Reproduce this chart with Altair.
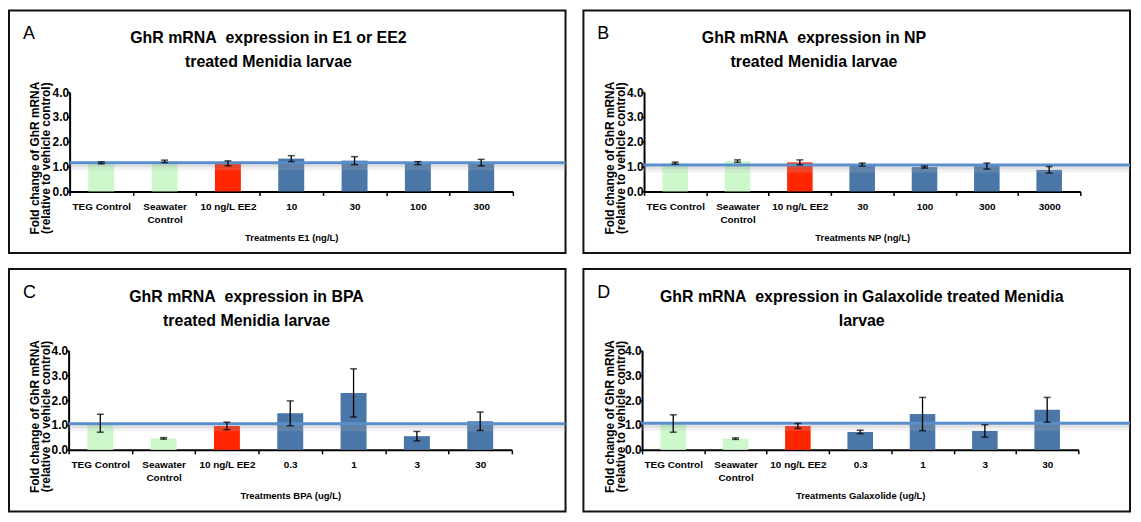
import altair as alt
import pandas as pd

# ---------------- data ----------------
common = ["TEG Control", "Seawater|Control", "10 ng/L EE2"]

a_cats = common + ["10", "30", "100", "300"]
a_mean = [1.15, 1.21, 1.13, 1.32, 1.24, 1.14, 1.16]
a_err = [0.04, 0.05, 0.10, 0.12, 0.16, 0.06, 0.13]
a_ref = 1.15

b_cats = common + ["30", "100", "300", "3000"]
b_mean = [1.14, 1.22, 1.17, 1.08, 0.98, 1.02, 0.87]
b_err = [0.04, 0.05, 0.10, 0.06, 0.04, 0.12, 0.13]
b_ref = 1.06

c_cats = common + ["0.3", "1", "3", "30"]
c_mean = [1.07, 0.46, 0.96, 1.47, 2.29, 0.55, 1.15]
c_err = [0.36, 0.03, 0.15, 0.50, 0.97, 0.19, 0.37]
c_ref = 1.05

d_cats = common + ["0.3", "1", "3", "30"]
d_mean = [1.06, 0.45, 0.96, 0.72, 1.44, 0.76, 1.61]
d_err = [0.35, 0.03, 0.10, 0.07, 0.67, 0.25, 0.50]
d_ref = 1.07

groups = ["control", "control", "positive", "dose", "dose", "dose", "dose"]
group_domain = ["control", "positive", "dose"]
group_colors = ["#ccf8cc", "#ff2600", "#4a76a8"]

NB = "\u00a0"
panels = [
    dict(letter="A", title=["GhR mRNA" + NB + " expression in E1 or EE2", "treated Menidia larvae"],
         xtitle="Treatments E1 (ng/L)", cats=a_cats, mean=a_mean, err=a_err, ref=a_ref,
         w=560, x0=61, x1=507, tc=261),
    dict(letter="B", title=["GhR mRNA" + NB + " expression in NP", "treated Menidia larvae"],
         xtitle="Treatments NP (ng/L)", cats=b_cats, mean=b_mean, err=b_err, ref=b_ref,
         w=550, x0=61, x1=500, tc=232),
    dict(letter="C", title=["GhR mRNA" + NB + " expression in BPA", "treated Menidia larvae"],
         xtitle="Treatments BPA (ug/L)", cats=c_cats, mean=c_mean, err=c_err, ref=c_ref,
         w=560, x0=60, x1=506, tc=239),
    dict(letter="D", title=["GhR mRNA" + NB + " expression in Galaxolide treated Menidia", "larvae"],
         xtitle="Treatments Galaxolide (ug/L)", cats=d_cats, mean=d_mean, err=d_err, ref=d_ref,
         w=550, x0=59, x1=498, tc=280),
]

H = 244
Y0, Y4 = 182, 82
FONT = "Liberation Sans"


def panel(p):
    df = pd.DataFrame({
        "cat": p["cats"],
        "mean": p["mean"],
        "lo": [m - e for m, e in zip(p["mean"], p["err"])],
        "hi": [m + e for m, e in zip(p["mean"], p["err"])],
        "group": groups,
    })
    one = pd.DataFrame({"ref": [p["ref"]]})

    x = alt.X("cat:N", sort=p["cats"],
              scale=alt.Scale(range=[p["x0"], p["x1"]], paddingInner=0, paddingOuter=0),
              axis=alt.Axis(title=p["xtitle"], labelAngle=0, offset=-(H - Y0),
                            domainColor="black", domainWidth=2, tickColor="black",
                            tickWidth=1.5, tickSize=4, tickBand="extent",
                            labelFont=FONT, labelFontSize=10, labelFontWeight="bold",
                            labelColor="black", labelPadding=6, labelLineHeight=13,
                            labelExpr="split(datum.label, '|')",
                            titleFont=FONT, titleFontSize=9.5, titleFontWeight="bold",
                            titleColor="black", titleBaseline="alphabetic", titleY=49))
    y = alt.Y("mean:Q",
              scale=alt.Scale(domain=[0, 4], range=[Y0, Y4], nice=False, zero=True),
              axis=alt.Axis(title=["Fold change of GhR mRNA", "(relative to vehicle control)"],
                            values=[0, 1, 2, 3, 4], format=".1f", offset=-p["x0"],
                            grid=False, domainColor="black", domainWidth=2,
                            tickColor="black", tickWidth=1.5, tickSize=3,
                            labelFont=FONT, labelFontSize=12, labelFontWeight="bold",
                            labelColor="black", labelPadding=-2,
                            titleFont=FONT, titleFontSize=12, titleFontWeight="bold",
                            titleColor="black", titleAngle=270, titleAlign="center",
                            titleBaseline="middle", titleLineHeight=11,
                            titleX=-(p["x0"] - 26), titleY=148))

    bars = alt.Chart(df).mark_bar(width=alt.RelativeBandSize(0.41)).encode(
        x=x, y=y,
        color=alt.Color("group:N", scale=alt.Scale(domain=group_domain, range=group_colors),
                        legend=None),
    )
    ebar = alt.Chart(df).mark_rule(color="black", strokeWidth=1.3).encode(
        x=alt.X("cat:N", sort=p["cats"]), y=alt.Y("lo:Q"), y2="hi:Q")
    cap_hi = alt.Chart(df).mark_tick(color="black", size=7, thickness=1.5).encode(
        x=alt.X("cat:N", sort=p["cats"]), y=alt.Y("hi:Q"))
    cap_lo = alt.Chart(df).mark_tick(color="black", size=7, thickness=1.5).encode(
        x=alt.X("cat:N", sort=p["cats"]), y=alt.Y("lo:Q"))

    shadow1 = alt.Chart(one).mark_rule(color="#9a9a9a", strokeWidth=3, opacity=0.3, yOffset=3).encode(
        x=alt.value(p["x0"]), x2=alt.value(p["w"]), y=alt.Y("ref:Q"))
    shadow2 = alt.Chart(one).mark_rule(color="#bcbcbc", strokeWidth=3, opacity=0.2, yOffset=6).encode(
        x=alt.value(p["x0"]), x2=alt.value(p["w"]), y=alt.Y("ref:Q"))
    refline = alt.Chart(one).mark_rule(color="#5b8fcb", strokeWidth=3).encode(
        x=alt.value(p["x0"]), x2=alt.value(p["w"]), y=alt.Y("ref:Q"))

    letter = alt.Chart(one).mark_text(font=FONT, fontSize=18, align="left",
                                      baseline="alphabetic", color="black").encode(
        x=alt.value(14), y=alt.value(29), text=alt.value(p["letter"]))
    title = alt.Chart(one).mark_text(font=FONT, fontSize=16, fontWeight="bold", align="center",
                                     baseline="alphabetic", lineHeight=24, color="black").encode(
        x=alt.value(p["tc"]), y=alt.value(33), text=alt.value(p["title"]))

    return alt.layer(bars, shadow2, shadow1, refline, ebar, cap_hi, cap_lo, letter, title).properties(
        width=p["w"], height=H)


charts = [panel(p) for p in panels]
chart = alt.vconcat(
    alt.hconcat(charts[0], charts[1], spacing=14),
    alt.hconcat(charts[2], charts[3], spacing=14),
    spacing=14,
).properties(padding=0, background="white").configure_view(
    stroke="#111", strokeWidth=2
).resolve_scale(x="independent", y="independent")

chart.save("out.html", embed_options={"renderer": "svg", "actions": False})
